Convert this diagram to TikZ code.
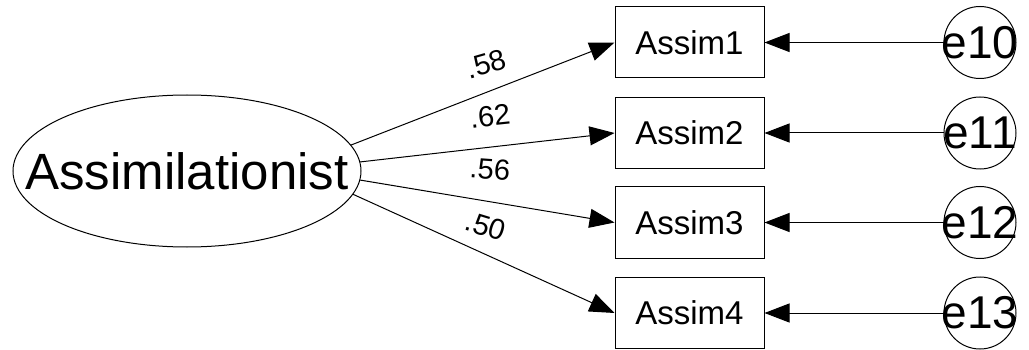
\documentclass[tikz,border=0pt]{standalone}
\usepackage{fontspec}
\setmainfont{Liberation Sans}
\usetikzlibrary{arrows.meta,shapes.geometric}
\begin{document}
\begin{tikzpicture}[x=1pt,y=-1pt,line width=1pt,
  latent/.style={draw,ellipse,minimum width=348pt,minimum height=152pt,inner sep=0pt,label={[font=\fontsize{51}{51}\selectfont]center:#1}},
  obs/.style={draw,rectangle,minimum width=149pt,minimum height=71pt,inner sep=0pt,font=\fontsize{33}{33}\selectfont},
  err/.style={draw,circle,minimum size=72pt,inner sep=0pt,label={[font=\fontsize{46}{46}\selectfont]center:#1}},
  path/.style={-{Triangle[length=25pt,width=19pt]}},
  coef/.style={font=\fontsize{29}{29}\selectfont,inner sep=0pt}]
\useasboundingbox (0,0) rectangle (1029,350);
\node[latent=Assimilationist] (A) at (187,171) {};
\node[obs] (b1) at (689.5,42.5) {Assim1};
\node[obs] (b2) at (689.5,133) {Assim2};
\node[obs] (b3) at (689.5,222.5) {Assim3};
\node[obs] (b4) at (689.5,313) {Assim4};
\node[err=e10] (e10) at (980,42.5) {};
\node[err=e11] (e11) at (980,133) {};
\node[err=e12] (e12) at (980,222.5) {};
\node[err=e13] (e13) at (980,313) {};
\draw[path] (A.9) -- (b1.west);
\draw[path] (A.3.5) -- (b2.west);
\draw[path] (A.-3) -- (b3.west);
\draw[path] (A.-8.7) -- (b4.west);
\draw[path] (e10) -- (b1);
\draw[path] (e11) -- (b2);
\draw[path] (e12) -- (b3);
\draw[path] (e13) -- (b4);
\node[coef,rotate=16] (l1) at (486,64) {.58};
\node[coef,rotate=6] (l2) at (490,116) {.62};
\node[coef,rotate=-4] (l3) at (490,169) {.56};
\node[coef,rotate=-17] (l4) at (486,226) {.50};
\end{tikzpicture}
\end{document}
